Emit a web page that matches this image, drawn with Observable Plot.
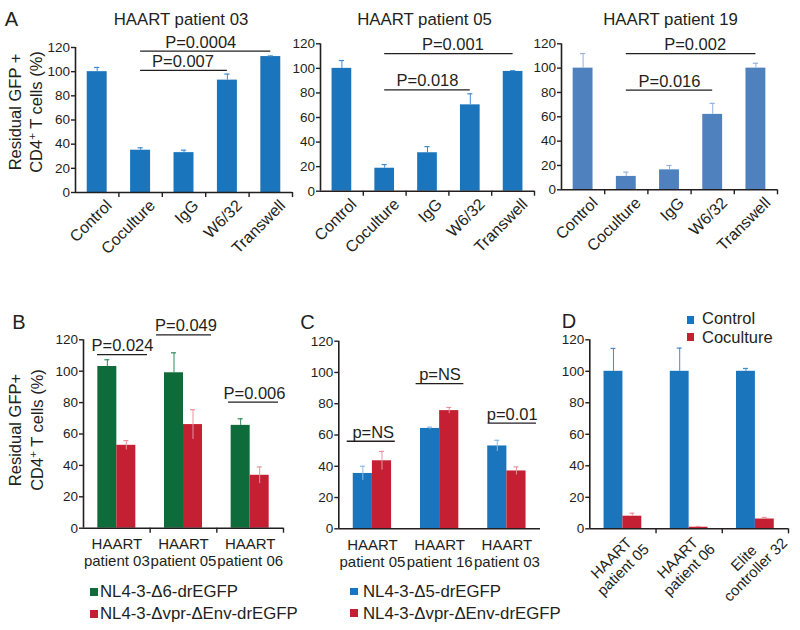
<!DOCTYPE html>
<html><head><meta charset="utf-8">
<script src="https://cdn.jsdelivr.net/npm/d3@7"></script>
<script src="https://cdn.jsdelivr.net/npm/@observablehq/plot@0.6"></script>
<style>
html,body{margin:0;padding:0;background:#fff;overflow:hidden;}
#root{position:relative;width:800px;height:630px;overflow:hidden;font-family:'Liberation Sans',Arial,Helvetica,sans-serif;color:#231f20;background:#fff;}
#root svg{position:absolute;}
.lbl{position:absolute;white-space:nowrap;line-height:1.15;}
.sup{position:relative;top:-0.45em;font-size:0.7em;}
.sq{position:absolute;width:7.5px;height:7.5px;}
</style></head><body><div id="root"></div>
<script>
const INK = "#231f20";
const FONT = "'Liberation Sans', Arial, Helvetica, sans-serif";
const yTicks = [0, 20, 40, 60, 80, 100, 120];

// ---- Panel A data ----
const aCategories = ["Control", "Coculture", "IgG", "W6/32", "Transwell"];
const aTitles = ["HAART patient 03", "HAART patient 05", "HAART patient 19"];
const a03Values = [100, 35, 33, 93, 112.5];
const a03Errors = [3.5, 2, 2, 5, 0.5];
const a05Values = [100, 18.7, 31.3, 70.3, 97.5];
const a05Errors = [6.4, 3, 5, 9, 0.6];
const a19Values = [100, 11, 16.4, 62, 100];
const a19Errors = [12, 3.5, 3.6, 9, 4];
const a03Brackets = [
  {from: "Coculture", to: "Transwell", y: 117, label: "P=0.0004", shift: -5},
  {from: "Coculture", to: "W6/32", y: 101, label: "P=0.007", shift: -1}
];
const a05Brackets = [
  {from: "Coculture", to: "Transwell", y: 112, label: "P=0.001", shift: 4},
  {from: "Coculture", to: "W6/32", y: 82.5, label: "P=0.018", shift: 0}
];
const a19Brackets = [
  {from: "Coculture", to: "Transwell", y: 112, label: "P=0.002", shift: 4},
  {from: "Coculture", to: "W6/32", y: 82, label: "P=0.016", shift: 0}
];

// ---- Panel B data ----
const bGroups = ["HAART\npatient 03", "HAART\npatient 05", "HAART\npatient 06"];
const bSeries = ["NL4-3-Δ6-drEGFP", "NL4-3-Δvpr-ΔEnv-drEGFP"];
const bDelta6Values = [103, 99, 65.5];
const bDelta6Errors = [4.3, 12.7, 4.2];
const bVprEnvValues = [52.8, 66, 33.7];
const bVprEnvErrors = [3, 9.5, 5.3];
const bBrackets = [
  {x1: 0.21, x2: 0.96, y: 110.6, label: "P=0.024", shift: 0},
  {x1: 1.095, x2: 1.92, y: 123.2, label: "P=0.049", shift: 2},
  {x1: 2.175, x2: 2.925, y: 80.3, label: "P=0.006", shift: 1}
];

// ---- Panel C data ----
const cGroups = ["HAART\npatient 05", "HAART\npatient 16", "HAART\npatient 03"];
const cSeries = ["NL4-3-Δ5-drEGFP", "NL4-3-Δvpr-ΔEnv-drEGFP"];
const cDelta5Values = [35.4, 64.2, 53];
const cDelta5Errors = [4.6, 0.8, 3.6];
const cVprEnvValues = [43.5, 75.6, 37];
const cVprEnvErrors = [6, 2, 2.6];
const cBrackets = [
  {x1: 0.125, x2: 0.84, y: 56, label: "p=NS", shift: 2},
  {x1: 1.15, x2: 1.86, y: 92.8, label: "p=NS", shift: 0},
  {x1: 2.22, x2: 2.94, y: 67.6, label: "p=0.01", shift: 0}
];

// ---- Panel D data ----
const dGroups = ["HAART\npatient 05", "HAART\npatient 06", "Elite\ncontroller 32"];
const dSeries = ["Control", "Coculture"];
const dControlValues = [100, 100, 100];
const dControlErrors = [14.5, 14.7, 1.8];
const dCocultureValues = [8, 1, 6.2];
const dCocultureErrors = [1.9, 0.5, 1];

// ---- colours ----
const BLUE = "#1b75bc", BLUE_ERR = "#3f8bd0";
const BLUE19 = "#4f81bf", BLUE19_ERR = "#94b3dc";
const GREEN = "#0e6b3a", GREEN_ERR = "#2f8a5a";
const RED = "#c41f32", RED_ERR = "#e8939e";
const CBLUE_ERR = "#8cbbe6";

const root = document.getElementById("root");

function place(svg, left, top) {
  svg.style.left = left + "px";
  svg.style.top = top + "px";
  root.appendChild(svg);
}

function frameMarks(n, xTicks) {
  const m = [
    Plot.ruleY([0], {x1: 0, x2: n, stroke: INK, strokeWidth: 1.6}),
    Plot.ruleX([0], {y1: 0, y2: 120, stroke: INK, strokeWidth: 1.6}),
    Plot.axisY({ticks: yTicks, tickSize: 4, tickPadding: 1.5, fontSize: 13.5, color: INK, strokeWidth: 1.4, label: null})
  ];
  if (xTicks) m.push(Plot.axisX({ticks: d3.range(1, n + 1), tickSize: 5, tickFormat: () => "", color: INK, strokeWidth: 1.4, label: null}));
  return m;
}

function makePlot({left, top, width, height, x0, x1, yZero, yTop, n, xTicks, marks}) {
  const svg = Plot.plot({
    width, height,
    marginLeft: x0 - left, marginRight: left + width - x1,
    marginTop: yTop - top, marginBottom: top + height - yZero,
    x: {domain: [0, n], axis: xTicks ? undefined : null},
    y: {domain: [0, 120]},
    style: {background: "transparent", overflow: "visible", fontFamily: FONT, fontSize: "13.5px", color: INK},
    marks: [...marks, ...frameMarks(n, xTicks)]
  });
  place(svg, left, top);
}

function bracketMarks(brackets, x1, x2) {
  return [
    Plot.ruleY(brackets, {y: "y", x1, x2, stroke: INK, strokeWidth: 1.3}),
    ...brackets.map(b => Plot.text([b], {y: "y", x: d => (x1(d) + x2(d)) / 2, text: "label", lineAnchor: "bottom", dx: b.shift, dy: -3.5, fontSize: 16.5, fill: INK}))
  ];
}

function panelA(geom, values, errors, brackets, color, errColor) {
  const hw = 0.23, cap = 0.06;
  const rows = aCategories.map((c, i) => ({cat: c, i, value: values[i], err: errors[i]}));
  const idx = c => aCategories.indexOf(c) + 0.5;
  makePlot({...geom, n: aCategories.length, xTicks: true, marks: [
    Plot.rect(rows, {x1: d => d.i + 0.5 - hw, x2: d => d.i + 0.5 + hw, y1: () => 0, y2: "value", fill: color}),
    Plot.ruleX(rows, {x: d => d.i + 0.5, y1: "value", y2: d => d.value + d.err, stroke: errColor, strokeWidth: 1}),
    Plot.ruleY(rows, {y: d => d.value + d.err, x1: d => d.i + 0.5 - cap, x2: d => d.i + 0.5 + cap, stroke: errColor, strokeWidth: 1.2}),
    ...bracketMarks(brackets, d => idx(d.from), d => idx(d.to)),
    Plot.text(rows, {x: d => d.i + 0.5, y: () => 0, text: "cat", rotate: -45, textAnchor: "end", lineAnchor: "top", dx: 7.5, dy: 6, fontSize: 16, fill: INK})
  ]});
}

function panelGrouped(geom, groups, s1v, s1e, s2v, s2e, colors, errColors, brackets, opts) {
  const w = 0.285, cap = 0.037;
  const rows = groups.flatMap((g, i) => [
    {i, s: 0, value: s1v[i], err: s1e[i]},
    {i, s: 1, value: s2v[i], err: s2e[i]}
  ]);
  const bx1 = d => d.i + 0.5 + (d.s === 0 ? -w : 0);
  const bc = d => bx1(d) + w / 2;
  const glabels = groups.map((g, i) => ({g, i}));
  const marks = [
    Plot.rect(rows, {x1: bx1, x2: d => bx1(d) + w, y1: () => 0, y2: "value", fill: d => colors[d.s]}),
    Plot.ruleX(rows, {x: bc, y1: d => opts.errBoth[d.s] ? d.value - d.err : d.value, y2: d => d.value + d.err, stroke: d => errColors[d.s], strokeWidth: 1}),
    Plot.ruleY(rows, {y: d => d.value + d.err, x1: d => bc(d) - cap, x2: d => bc(d) + cap, stroke: d => errColors[d.s], strokeWidth: 1.2})
  ];
  if (brackets) marks.push(...bracketMarks(brackets, d => d.x1, d => d.x2));
  if (opts.rotate) {
    marks.push(Plot.text(glabels, {x: d => d.i + 0.5, y: () => 0, text: "g", rotate: -45, textAnchor: "middle", lineAnchor: "middle", lineHeight: 1.1, dx: -6, dy: 35, fontSize: 15, fill: INK}));
  } else {
    marks.push(Plot.text(glabels, {x: d => d.i + 0.5, y: () => 0, text: "g", textAnchor: "middle", lineAnchor: "top", lineHeight: 1.1, dy: 9.5, fontSize: 15, fill: INK}));
  }
  makePlot({...geom, n: groups.length, xTicks: opts.xTicks, marks});
}

// Row A
panelA({left: 0, top: 0, width: 300, height: 290, x0: 75, x1: 292, yZero: 192, yTop: 47}, a03Values, a03Errors, a03Brackets, BLUE, BLUE_ERR);
panelA({left: 275, top: 0, width: 270, height: 290, x0: 320, x1: 534, yZero: 190.7, yTop: 43.3}, a05Values, a05Errors, a05Brackets, BLUE, BLUE_ERR);
panelA({left: 520, top: 0, width: 280, height: 290, x0: 561, x1: 777, yZero: 189.3, yTop: 43.3}, a19Values, a19Errors, a19Brackets, BLUE19, BLUE19_ERR);

// Row B, C, D
panelGrouped({left: 0, top: 290, width: 290, height: 340, x0: 83, x1: 283, yZero: 527.7, yTop: 339.3},
  bGroups, bDelta6Values, bDelta6Errors, bVprEnvValues, bVprEnvErrors, [GREEN, RED], [GREEN_ERR, RED_ERR], bBrackets, {xTicks: true, errBoth: [false, true]});
panelGrouped({left: 290, top: 290, width: 260, height: 340, x0: 338.3, x1: 540, yZero: 528.3, yTop: 340.7},
  cGroups, cDelta5Values, cDelta5Errors, cVprEnvValues, cVprEnvErrors, [BLUE, RED], [CBLUE_ERR, RED_ERR], cBrackets, {xTicks: false, errBoth: [true, true]});
panelGrouped({left: 550, top: 290, width: 250, height: 340, x0: 589.3, x1: 788, yZero: 528.3, yTop: 339.3},
  dGroups, dControlValues, dControlErrors, dCocultureValues, dCocultureErrors, [BLUE, RED], [BLUE_ERR, RED_ERR], null, {xTicks: true, errBoth: [false, false], rotate: true});

// ---- HTML text ----
function label(html, x, y, size, opts = {}) {
  const d = document.createElement("div");
  d.className = "lbl";
  d.innerHTML = html;
  d.style.fontSize = size + "px";
  d.style.left = x + "px";
  d.style.top = y + "px";
  if (opts.lineHeight) d.style.lineHeight = opts.lineHeight + "px";
  d.style.textAlign = "center";
  const rot = opts.rotate ? ` rotate(${opts.rotate}deg)` : "";
  d.style.transform = opts.left ? `translate(0,-50%)` : `translate(-50%,-50%)${rot}`;
  root.appendChild(d);
}
function square(x, y, color) {
  const s = document.createElement("div");
  s.className = "sq";
  s.style.left = x + "px";
  s.style.top = y + "px";
  s.style.background = color;
  root.appendChild(s);
}

label("A", 11.5, 19, 20);
label("B", 19, 322, 20);
label("C", 307.5, 321.5, 20);
label("D", 569, 321, 20);

label(aTitles[0], 181, 20, 16.8);
label(aTitles[1], 424.5, 20, 16.8);
label(aTitles[2], 670.5, 20, 16.8);

label('Residual GFP +<br>CD4<span class="sup">+</span> T cells (%)', 26, 112, 16.5, {rotate: -90, lineHeight: 20.5});
label('Residual GFP+<br>CD4<span class="sup">+</span> T cells (%)', 27, 430, 16.5, {rotate: -90, lineHeight: 21.5});

// legends
square(90, 588.3, GREEN); label(bSeries[0], 100, 592, 16.8, {left: true});
square(90, 610.3, RED); label(bSeries[1], 100, 614, 16.8, {left: true});
square(350, 587.7, BLUE); label(cSeries[0], 363, 592, 16.8, {left: true});
square(350, 609.3, RED); label(cSeries[1], 363, 613.5, 16.8, {left: true});
square(686.7, 316, BLUE); label(dSeries[0], 702, 318, 16.5, {left: true});
square(686.7, 333.3, RED); label(dSeries[1], 702, 337, 16.5, {left: true});
</script></body></html>
